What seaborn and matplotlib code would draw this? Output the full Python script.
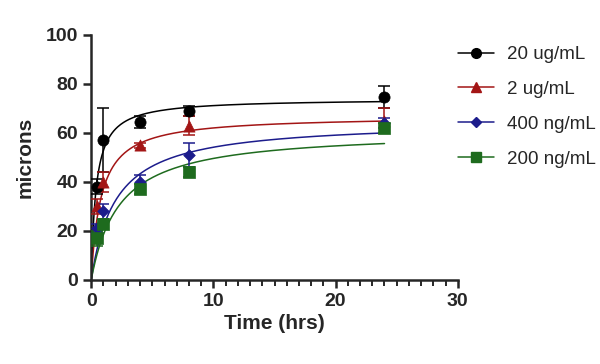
import numpy as np
import pandas as pd
import matplotlib
matplotlib.use("Agg")
import matplotlib.pyplot as plt
from matplotlib.lines import Line2D
import seaborn as sns

# --- data ---
time_hrs = [0.5, 1, 4, 8, 24]
labels = ["20 ug/mL", "2 ug/mL", "400 ng/mL", "200 ng/mL"]
colors = ["#000000", "#a31515", "#1c1c8c", "#1e6b1e"]
markers = ["o", "^", "D", "s"]

mean_20ug = [38, 57, 64.5, 69, 74.5]
err_20ug = [3, 13, 2.5, 2, 4.5]
mean_2ug = [30, 40, 55, 63, 65]
err_2ug = [3, 4, 1, 4, 5]
mean_400ng = [21, 28, 40, 51, 64]
err_400ng = [2, 3, 3, 5, 2]
mean_200ng = [17, 23, 37, 44, 62]
err_200ng = [3, 2, 2, 2, 2]

# hyperbolic fit parameters (Bmax, Kd) estimated from the drawn curves
bmax = [74, 67, 65, 61]
kd = [0.4, 0.8, 2.0, 2.3]

means = [mean_20ug, mean_2ug, mean_400ng, mean_200ng]
errs = [err_20ug, err_2ug, err_400ng, err_200ng]

sns.set_style("ticks")
plt.rcParams["font.family"] = ["Liberation Sans", "DejaVu Sans"]

fig = plt.figure(figsize=(6, 3.64), dpi=100)
ax = fig.add_axes([0.152, 0.231, 0.611, 0.673])

t_fit = np.linspace(0, 24, 300)
for lab, col, mk, m, e, b, k in zip(labels, colors, markers, means, errs, bmax, kd):
    fit = pd.DataFrame({"t": t_fit, "y": b * t_fit / (k + t_fit)})
    sns.lineplot(data=fit, x="t", y="y", ax=ax, color=col, lw=1.1)
    ax.errorbar(time_hrs, m, yerr=e, fmt="none", ecolor=col, elinewidth=1.1,
                capsize=4, capthick=1.1, zorder=3)
    pts = pd.DataFrame({"t": time_hrs, "y": m})
    size = 65 if mk != "D" else 35
    sns.scatterplot(data=pts, x="t", y="y", ax=ax, color=col, marker=mk,
                    s=size, edgecolor=col, linewidth=0.5, zorder=4)

sns.despine(ax=ax)
for s in ["left", "bottom"]:
    ax.spines[s].set_linewidth(1.8)

ax.set_xlim(0, 30)
ax.set_ylim(0, 100)
ax.set_xticks([0, 10, 20, 30])
ax.set_xticks(np.arange(0, 31, 1), minor=True)
ax.set_yticks([0, 20, 40, 60, 80, 100])
ax.tick_params(which="major", length=6, width=1.8, labelsize=14)
ax.xaxis.set_tick_params(which="minor", length=4, width=1.4, bottom=True,
                         top=False)
for t in ax.get_xticklabels() + ax.get_yticklabels():
    t.set_fontweight("bold")
ax.set_xlabel("Time (hrs)", fontsize=15, fontweight="bold", labelpad=3)
ax.set_ylabel("microns", fontsize=15, fontweight="bold", labelpad=8)

handles = [Line2D([0], [0], color=c, marker=mk, lw=1.1,
                  markersize=7 if mk != "D" else 5)
           for c, mk in zip(colors, markers)]
fig.legend(handles, labels, loc="upper left", bbox_to_anchor=(0.735, 0.92),
           frameon=False, fontsize=13.5, handlelength=1.9, handletextpad=0.7,
           labelspacing=0.95)

fig.savefig("out.png", dpi=100)
